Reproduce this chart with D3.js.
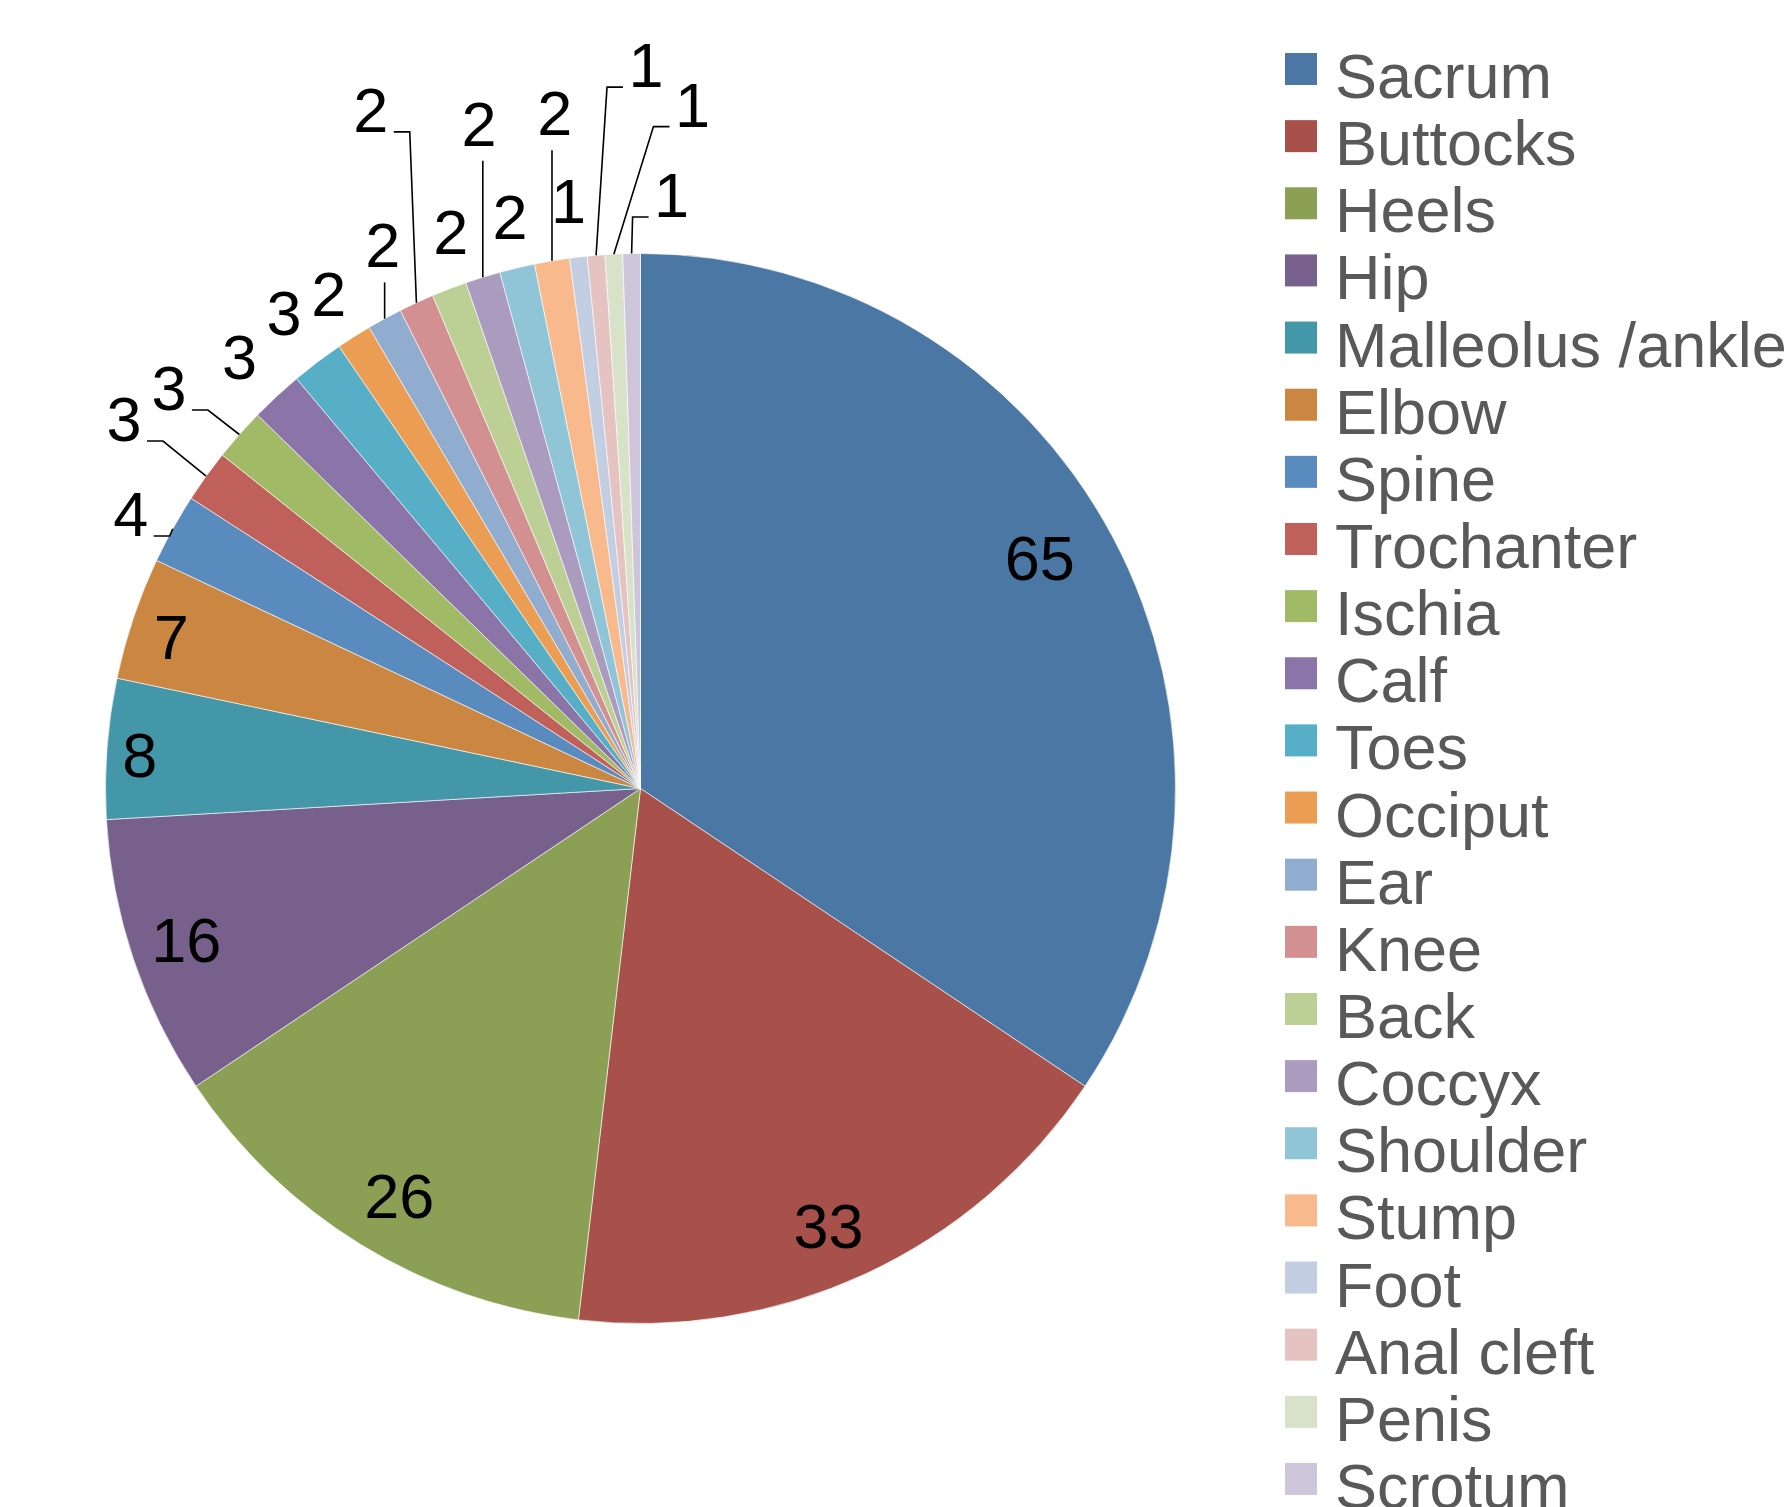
<!DOCTYPE html>
<html>
<head>
<meta charset="utf-8" />
<title>Pressure ulcer sites</title>
<style type="text/css">
body { margin: 0; background: #fff; }
text { font-family: "Liberation Sans", Arial, sans-serif; }
.legend text { fill: #595959; }
.leader { fill: none; stroke: #000; stroke-width: 1.6px; }
</style>
<script src="https://cdn.jsdelivr.net/npm/d3@7/dist/d3.min.js"></script>
</head>
<body>
<svg width="1790" height="1507"></svg>
<script type="text/javascript">

// data
var sites = ["Sacrum", "Buttocks", "Heels", "Hip", "Malleolus /ankle", "Elbow", "Spine",
             "Trochanter", "Ischia", "Calf", "Toes", "Occiput", "Ear", "Knee", "Back",
             "Coccyx", "Shoulder", "Stump", "Foot", "Anal cleft", "Penis", "Scrotum"];
var counts = [65, 33, 26, 16, 8, 7, 4, 3, 3, 3, 3, 2, 2, 2, 2, 2, 2, 2, 1, 1, 1, 1];
var colours = ["#4a77a3", "#a8514b", "#8b9f55", "#77618c", "#4497a9", "#cb8641", "#5a8bbf",
               "#c0605a", "#a1ba66", "#8b74a8", "#56afc6", "#eb9e53", "#90add0", "#d39090",
               "#bcd096", "#ab9bbf", "#8fc5d7", "#f8b98c", "#c3cee2", "#e4c3c1", "#d7e2c9",
               "#cdc6da"];

// label nudges (extra radius px, extra angle deg, draw leader) where Excel moved them
var labelNudge = {
  "Sacrum": [-10, -2], "Buttocks": [-2, 1.5], "Heels": [-2, -0.8], "Hip": [6, 0.2],
  "Malleolus /ankle": [8, -0.4], "Elbow": [4, -0.6],
  "Spine": [-8, -0.7, 1], "Trochanter": [47, -0.1, 1], "Ischia": [30, -1.05, 1],
  "Toes": [5, 0.3], "Occiput": [-4, 0.2], "Ear": [12.5, 3.2, 1], "Knee": [142, 3.1, 1],
  "Back": [0, 2.15], "Coccyx": [97, 3.5, 1], "Shoulder": [0, 0.5], "Stump": [95, 2.3, 1],
  "Foot": [7.5, -0.3], "Anal cleft": [139, 5.2, 1], "Penis": [102, 7.2, 1],
  "Scrotum": [11, 3.95, 1]
};

var svg = d3.select("svg"),
    cx = 640.5, cy = 788.5, radius = 535,
    fontSize = 63,
    g = svg.append("g").attr("transform", "translate(" + cx + "," + cy + ")");

svg.insert("rect", ":first-child").attr("width", 1790).attr("height", 1507).attr("fill", "#fff");

var colour = d3.scaleOrdinal().domain(sites).range(colours);

var pie = d3.pie().sort(null).value(function(d) { return d.value; });
var arc = d3.arc().innerRadius(0).outerRadius(radius);

var slices = pie(sites.map(function(s, i) { return {site: s, value: counts[i]}; }));

g.selectAll(".slice")
  .data(slices)
  .enter()
  .append("path")
  .attr("class", "slice")
  .attr("d", arc)
  .attr("fill", function(d) { return colour(d.data.site); })
  .attr("stroke", "#fff")
  .attr("stroke-opacity", 0.6)
  .attr("stroke-width", 1);

// data labels: inside end for big slices, outside end for the rest
var hh = 0.358 * fontSize;
function polar(r, a) { return [r * Math.sin(a), -r * Math.cos(a)]; }

slices.forEach(function(d) {
  var txt = String(d.data.value),
      hw = txt.length * 0.556 * fontSize / 2,
      mid = (d.startAngle + d.endAngle) / 2,
      nudge = labelNudge[d.data.site] || [0, 0],
      extent = Math.abs(Math.sin(mid)) * hw + Math.abs(Math.cos(mid)) * hh,
      inside = d.data.value >= 5,
      r = inside ? radius - 22 - extent : radius + 26 + extent,
      a = mid + nudge[1] * Math.PI / 180,
      p = polar(r + nudge[0], a);

  g.append("text")
    .attr("x", p[0])
    .attr("y", p[1] + hh)
    .attr("text-anchor", "middle")
    .attr("font-size", fontSize)
    .attr("fill", "#000")
    .text(txt);

  if (nudge[2]) {
    var s = polar(radius, mid), path;
    if (Math.abs(s[0] - p[0]) <= hw) {
      path = "M" + s[0] + "," + s[1] + "L" + s[0] + "," + (p[1] + hh + 15);
    } else {
      var side = s[0] > p[0] ? 1 : -1,
          ex = p[0] + side * (hw + 5.5),
          ey = p[1] + hh;
      path = "M" + ex + "," + ey + "L" + (ex + side * 16) + "," + ey + "L" + s[0] + "," + s[1];
    }
    g.append("path").attr("class", "leader").attr("d", path);
  }
});

// legend
var rowY = d3.scalePoint().domain(sites).range([53, 53 + 21 * 67.14]);
var legend = svg.append("g").attr("class", "legend");

var item = legend.selectAll("g")
  .data(sites)
  .enter()
  .append("g")
  .attr("transform", function(d) { return "translate(1285," + rowY(d) + ")"; });

item.append("rect")
  .attr("width", 32)
  .attr("height", 32)
  .attr("fill", function(d) { return colour(d); });

item.append("text")
  .attr("x", 50)
  .attr("y", 45)
  .attr("font-size", fontSize)
  .text(function(d) { return d; });

</script>
</body>
</html>
